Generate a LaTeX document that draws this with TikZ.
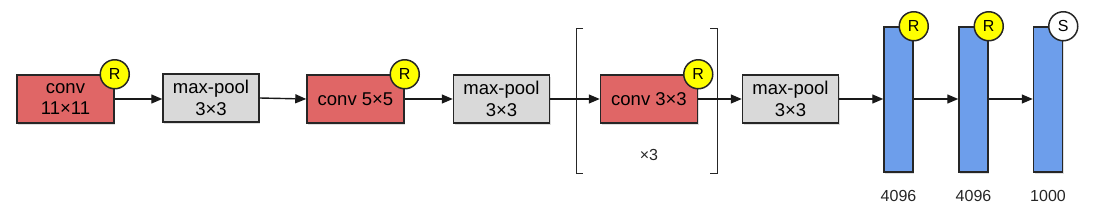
\documentclass[tikz,border=0pt]{standalone}
\usepackage{fontspec}
\setmainfont{Liberation Sans}
\usetikzlibrary{arrows.meta,shadows}
\definecolor{convred}{HTML}{E06666}
\definecolor{poolgray}{HTML}{D9D9D9}
\definecolor{fcblue}{HTML}{6D9EEB}
\definecolor{ryellow}{HTML}{FFFF00}
\begin{document}
\begin{tikzpicture}[x=1pt,y=-1pt,
  base/.style={draw=black!85,line width=1.5pt,drop shadow={shadow xshift=1pt,shadow yshift=-1.5pt,opacity=0.25}},
  convbox/.style={base,fill=convred,minimum width=97pt,minimum height=48pt,inner sep=0pt,align=center,font=\fontsize{18.5}{21.5}\selectfont},
  poolbox/.style={base,fill=poolgray,minimum width=96pt,minimum height=48pt,inner sep=0pt,align=center,font=\fontsize{18.5}{21.5}\selectfont},
  fcbox/.style={base,fill=fcblue,minimum width=29pt,minimum height=145pt,inner sep=0pt},
  badge/.style={circle,draw=black!85,line width=1.5pt,fill=ryellow,minimum size=29pt,inner sep=0pt,font=\fontsize{16}{16}\selectfont},
  sbadge/.style={badge,fill=white},
  lbl/.style={font=\fontsize{16}{16}\selectfont,text=black!85},
  conn/.style={line width=1.4pt,draw=black!90,-{Triangle[length=11pt,width=9pt]}},
  brk/.style={line width=1pt,draw=black!85}]
\useasboundingbox (0,0) rectangle (1102,215);
% conv / pool boxes
\node[convbox] (c1) at (65.5,99) {conv\\11×11};
\node[poolbox] (p1) at (211,98) {max-pool\\3×3};
\node[convbox] (c2) at (355.5,99) {conv 5×5};
\node[poolbox] (p2) at (501.5,99) {max-pool\\3×3};
\node[convbox] (c3) at (649,99) {conv 3×3};
\node[poolbox] (p3) at (790.5,99) {max-pool\\3×3};
% fully connected
\node[fcbox] (f1) at (898.5,99.5) {};
\node[fcbox] (f2) at (973.5,99.5) {};
\node[fcbox] (f3) at (1048,99.5) {};
% badges
\node[badge] (r1) at (c1.north east) {R};
\node[badge] (r2) at (c2.north east) {R};
\node[badge] (r3) at (c3.north east) {R};
\node[badge] (r4) at (f1.north east) {R};
\node[badge] (r5) at (f2.north east) {R};
\node[sbadge] (s1) at (f3.north east) {S};
% bracket
\coordinate (bl) at (576,28);
\coordinate (br) at (717,28);
\draw[brk] ([xshift=7pt]bl) -- (bl) -- ++(0,145) -- ++(7,0);
\draw[brk] ([xshift=-7pt]br) -- (br) -- ++(0,145) -- ++(-7,0);
\node[lbl] (rep) at (649,155) {×3};
% labels
\node[lbl] (l1) at (898.5,196) {4096};
\node[lbl] (l2) at (973.5,196) {4096};
\node[lbl] (l3) at (1048,196) {1000};
% connectors
\draw[conn] (c1.east) -- (p1.west|-c1.east);
\draw[conn] (p1.east) -- (c2.west);
\draw[conn] (c2.east) -- (p2.west);
\draw[conn] (p2.east) -- (c3.west);
\draw[conn] (c3.east) -- (p3.west);
\draw[conn] (p3.east) -- (f1.west|-p3.east);
\draw[conn] (f1.east|-p3.east) -- (f2.west|-p3.east);
\draw[conn] (f2.east|-p3.east) -- (f3.west|-p3.east);
\end{tikzpicture}
\end{document}
